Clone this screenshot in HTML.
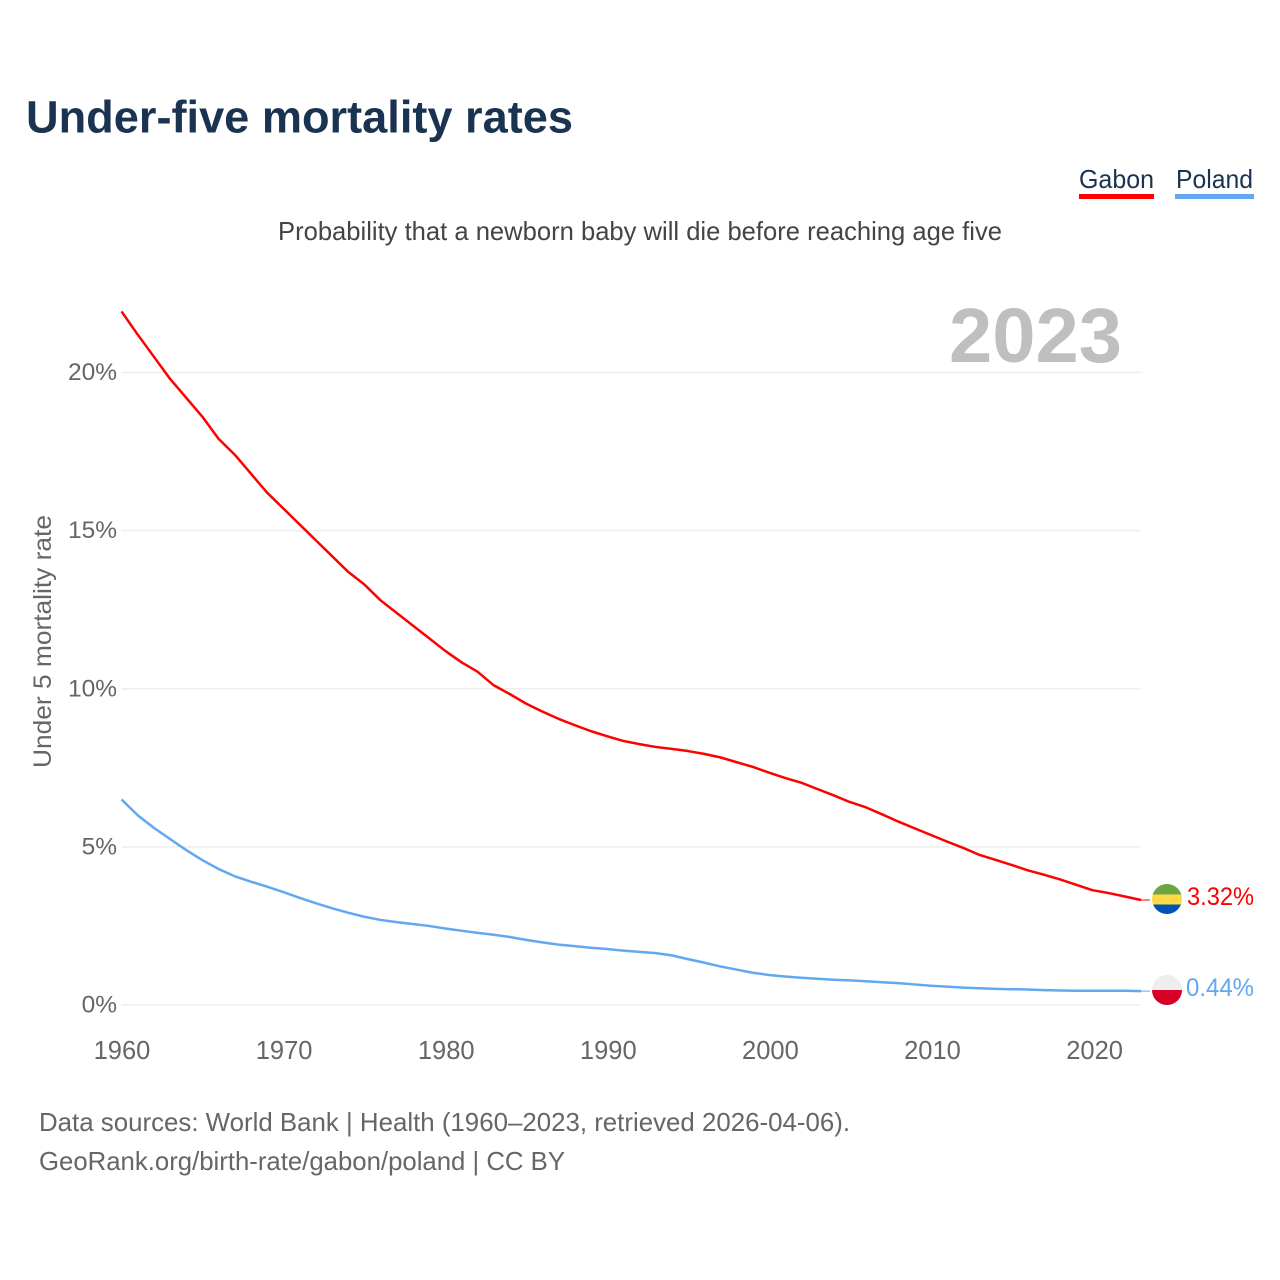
<!DOCTYPE html>
<html lang="en">
<head>
<meta charset="utf-8">
<title>Under-five mortality rates</title>
<style>
  html, body { margin: 0; padding: 0; background: #fff; }
  svg { display: block; font-family: "Liberation Sans", sans-serif; }
</style>
</head>
<body>
<svg id="chart" xmlns="http://www.w3.org/2000/svg" width="1280" height="1280" viewBox="0 0 1280 1280">
  <rect width="1280" height="1280" fill="#ffffff"/>
  <text x="26" y="132.5" font-size="45" font-weight="700" fill="#1a3350" textLength="547" lengthAdjust="spacingAndGlyphs">Under-five mortality rates</text>
  <text x="1079" y="188" font-size="26" fill="#1a3350" textLength="75" lengthAdjust="spacingAndGlyphs">Gabon</text>
  <rect x="1079" y="194" width="75" height="5" fill="#ff0000"/>
  <text x="1176" y="188" font-size="26" fill="#1a3350" textLength="77" lengthAdjust="spacingAndGlyphs">Poland</text>
  <rect x="1175" y="194" width="79" height="5" fill="#62a8ef"/>
  <text x="278" y="240" font-size="26" fill="#444444" textLength="724" lengthAdjust="spacingAndGlyphs">Probability that a newborn baby will die before reaching age five</text>
  <text x="949" y="362" font-size="77" font-weight="700" fill="#bfbfbf" textLength="173" lengthAdjust="spacingAndGlyphs">2023</text>
  <text transform="translate(51,768) rotate(-90)" x="0" y="0" font-size="25" fill="#666666" textLength="253" lengthAdjust="spacingAndGlyphs">Under 5 mortality rate</text>
  <g id="grid"></g>
  <g id="yticks"></g>
  <g id="xticks"></g>
  <g id="series"></g>
  <defs>
    <clipPath id="clip-gabon"><circle id="clip-circle-gabon" cx="1167" cy="899" r="15"/></clipPath>
    <clipPath id="clip-poland"><circle id="clip-circle-poland" cx="1167" cy="990" r="15"/></clipPath>
  </defs>
  <g id="flag-gabon" clip-path="url(#clip-gabon)">
    <rect x="1152" y="884" width="30" height="10.5" fill="#6da544"/>
    <rect x="1152" y="894.5" width="30" height="10" fill="#ffda44"/>
    <rect x="1152" y="904.5" width="30" height="10" fill="#0052b4"/>
  </g>
  <g id="flag-poland" clip-path="url(#clip-poland)">
    <rect x="1152" y="975" width="30" height="15" fill="#eeeeee"/>
    <rect x="1152" y="990" width="30" height="15" fill="#d80027"/>
  </g>
  <text x="1187" y="905" font-size="25" fill="#ff0000" textLength="67" lengthAdjust="spacingAndGlyphs">3.32%</text>
  <text x="1186" y="996" font-size="25" fill="#62a8ef" textLength="68" lengthAdjust="spacingAndGlyphs">0.44%</text>
  <text x="39" y="1131" font-size="26" fill="#666666" textLength="811" lengthAdjust="spacingAndGlyphs">Data sources: World Bank | Health (1960–2023, retrieved 2026-04-06).</text>
  <text x="39" y="1170" font-size="26" fill="#666666" textLength="526" lengthAdjust="spacingAndGlyphs">GeoRank.org/birth-rate/gabon/poland | CC BY</text>
</svg>
<script>
const years = [1960,1961,1962,1963,1964,1965,1966,1967,1968,1969,1970,1971,1972,1973,1974,1975,1976,1977,1978,1979,1980,1981,1982,1983,1984,1985,1986,1987,1988,1989,1990,1991,1992,1993,1994,1995,1996,1997,1998,1999,2000,2001,2002,2003,2004,2005,2006,2007,2008,2009,2010,2011,2012,2013,2014,2015,2016,2017,2018,2019,2020,2021,2022,2023];
const gabon = [21.93,21.2,20.5,19.8,19.2,18.6,17.9,17.4,16.8,16.2,15.7,15.2,14.7,14.2,13.7,13.3,12.8,12.4,12.0,11.6,11.2,10.84,10.54,10.11,9.83,9.53,9.28,9.05,8.85,8.66,8.5,8.35,8.25,8.16,8.1,8.03,7.94,7.83,7.68,7.53,7.35,7.18,7.03,6.83,6.63,6.42,6.25,6.03,5.8,5.59,5.38,5.17,4.97,4.75,4.59,4.43,4.26,4.12,3.97,3.8,3.63,3.54,3.43,3.32];
const poland = [6.5,6.0,5.6,5.25,4.9,4.58,4.3,4.07,3.9,3.74,3.57,3.39,3.22,3.06,2.92,2.79,2.69,2.62,2.56,2.5,2.42,2.35,2.28,2.22,2.15,2.06,1.98,1.91,1.86,1.81,1.77,1.72,1.68,1.64,1.57,1.45,1.34,1.22,1.12,1.02,0.95,0.9,0.86,0.83,0.8,0.78,0.75,0.72,0.69,0.65,0.61,0.58,0.55,0.53,0.51,0.5,0.49,0.47,0.46,0.45,0.45,0.45,0.45,0.44];
const yTicks = [0,5,10,15,20];
const xTicks = [1960,1970,1980,1990,2000,2010,2020];

const NS = 'http://www.w3.org/2000/svg';
function xScale(year) { return 121.5 + (year - 1960) * (1141 - 121.5) / 63; }
function xLabelScale(year) { return 122 + (year - 1960) * 16.21; }
function yScale(v) { return 1005 - v * (1005 - 372.5) / 20; }

const grid = document.getElementById('grid');
const yG = document.getElementById('yticks');
const xG = document.getElementById('xticks');
const seriesG = document.getElementById('series');

yTicks.forEach(function (t) {
  const line = document.createElementNS(NS, 'line');
  
  
  line.setAttribute('x1', xScale(1960));
  line.setAttribute('x2', xScale(2023));
  line.setAttribute('y1', yScale(t));
  line.setAttribute('y2', yScale(t));
  line.setAttribute('stroke', '#eeeeee');
  line.setAttribute('stroke-width', '1.5');
  grid.appendChild(line);

  const label = document.createElementNS(NS, 'text');
  
  
  label.setAttribute('x', 117);
  label.setAttribute('y', yScale(t) + 7.5);
  label.setAttribute('text-anchor', 'end');
  label.setAttribute('font-size', '24.5');
  label.setAttribute('fill', '#666666');
  label.textContent = t + '%';
  yG.appendChild(label);
});

xTicks.forEach(function (t) {
  const label = document.createElementNS(NS, 'text');
  
  
  label.setAttribute('x', xLabelScale(t));
  label.setAttribute('y', 1059);
  label.setAttribute('text-anchor', 'middle');
  label.setAttribute('font-size', '25.5');
  label.setAttribute('fill', '#666666');
  label.textContent = String(t);
  xG.appendChild(label);
});

function drawSeries(values, color, name) {
  const d = values.map(function (v, i) {
    return (i === 0 ? 'M' : 'L') + xScale(years[i]).toFixed(2) + ' ' + yScale(v).toFixed(2);
  }).join(' ');
  const path = document.createElementNS(NS, 'path');
  
  
  path.setAttribute('d', d);
  path.setAttribute('fill', 'none');
  path.setAttribute('stroke', color);
  path.setAttribute('stroke-width', '2.5');
  path.setAttribute('stroke-linejoin', 'round');
  seriesG.appendChild(path);

  const lastY = yScale(values[values.length - 1]);
  const leader = document.createElementNS(NS, 'line');
  
  
  leader.setAttribute('x1', xScale(2023));
  leader.setAttribute('x2', 1150);
  leader.setAttribute('y1', lastY);
  leader.setAttribute('y2', lastY);
  leader.setAttribute('stroke', color);
  leader.setAttribute('stroke-width', '1');
  seriesG.appendChild(leader);
}
drawSeries(gabon, '#ff0000', 'line-gabon');
drawSeries(poland, '#62a8ef', 'line-poland');
</script>
</body>
</html>
